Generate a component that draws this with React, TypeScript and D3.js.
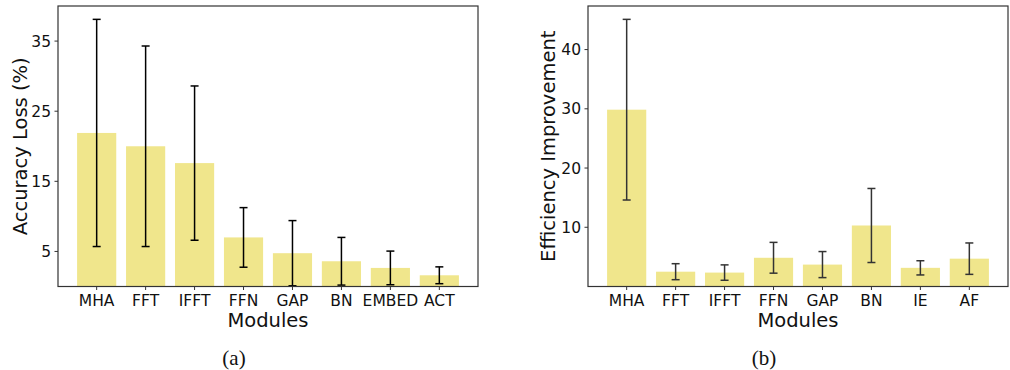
import * as d3 from "d3";

// panel (a): accuracy loss
const modulesA = ["MHA", "FFT", "IFFT", "FFN", "GAP", "BN", "EMBED", "ACT"];
const lossMean = [21.9, 20.0, 17.6, 7.0, 4.75, 3.6, 2.65, 1.6];
const lossErr = [16.2, 14.3, 11.0, 4.25, 4.65, 3.4, 2.4, 1.2];
const lossTicks = [5, 15, 25, 35];

// panel (b): efficiency improvement
const modulesB = ["MHA", "FFT", "IFFT", "FFN", "GAP", "BN", "IE", "AF"];
const effMean = [29.85, 2.5, 2.35, 4.85, 3.7, 10.3, 3.15, 4.7];
const effErr = [15.25, 1.35, 1.3, 2.6, 2.2, 6.25, 1.2, 2.65];
const effTicks = [10, 20, 30, 40];

const FONT = "DejaVu Sans, sans-serif";
const BAR = "#f0e68c";

type PanelProps = {
  x0: number;
  x1: number;
  cats: string[];
  mean: number[];
  err: number[];
  ticks: number[];
  ylabel: string;
  ylabelX: number;
  errColor: string;
  caption: string;
  captionX: number;
};

function Panel(p: PanelProps) {
  const top = 6;
  const bottom = 286.5;
  const x = d3
    .scaleBand<string>()
    .domain(p.cats)
    .range([p.x0, p.x1])
    .paddingInner(0.2)
    .paddingOuter(0.39);
  const ymax = d3.max(p.mean.map((m, i) => m + p.err[i])) as number;
  const y = d3.scaleLinear().domain([0, ymax * 1.05]).range([bottom, top]);
  const cx = (c: string) => (x(c) as number) + x.bandwidth() / 2;
  const cap = 4;
  return (
    <g>
      {p.cats.map((c, i) => (
        <rect
          key={c}
          x={x(c)}
          y={y(p.mean[i])}
          width={x.bandwidth()}
          height={bottom - y(p.mean[i])}
          fill={BAR}
        />
      ))}
      {p.cats.map((c, i) => {
        const lo = y(Math.max(0, p.mean[i] - p.err[i]));
        const hi = y(p.mean[i] + p.err[i]);
        const xc = cx(c);
        return (
          <g key={c} stroke={p.errColor} strokeWidth={1.5}>
            <line x1={xc} x2={xc} y1={lo} y2={hi} />
            <line x1={xc - cap} x2={xc + cap} y1={lo} y2={lo} />
            <line x1={xc - cap} x2={xc + cap} y1={hi} y2={hi} />
          </g>
        );
      })}
      <rect
        x={p.x0}
        y={top}
        width={p.x1 - p.x0}
        height={bottom - top}
        fill="none"
        stroke="#333"
        strokeWidth={1.2}
      />
      {p.ticks.map((t) => (
        <g key={t}>
          <line x1={p.x0 - 3.5} x2={p.x0} y1={y(t)} y2={y(t)} stroke="#333" />
          <text
            x={p.x0 - 7}
            y={y(t)}
            dy="0.36em"
            textAnchor="end"
            fontFamily={FONT}
            fontSize={15.5}
            fill="#111"
          >
            {t}
          </text>
        </g>
      ))}
      {p.cats.map((c) => (
        <g key={c}>
          <line x1={cx(c)} x2={cx(c)} y1={bottom} y2={bottom + 3.5} stroke="#333" />
          <text
            x={cx(c)}
            y={306}
            textAnchor="middle"
            fontFamily={FONT}
            fontSize={15.5}
            fill="#111"
          >
            {c}
          </text>
        </g>
      ))}
      <text
        x={(p.x0 + p.x1) / 2}
        y={326.5}
        textAnchor="middle"
        fontFamily={FONT}
        fontSize={19.5}
        fill="#111"
      >
        Modules
      </text>
      <text
        transform={`translate(${p.ylabelX},${(top + bottom) / 2}) rotate(-90)`}
        textAnchor="middle"
        fontFamily={FONT}
        fontSize={19.5}
        fill="#111"
      >
        {p.ylabel}
      </text>
      <text
        x={p.captionX}
        y={365}
        textAnchor="middle"
        fontFamily="Liberation Serif, serif"
        fontSize={21}
        fill="#111"
      >
        {p.caption}
      </text>
    </g>
  );
}

export default function App() {
  return (
    <svg
      width={1010}
      height={370}
      style={{ position: "absolute", left: 0, top: 0, background: "#fff" }}
    >
      <Panel
        x0={58}
        x1={478}
        cats={modulesA}
        mean={lossMean}
        err={lossErr}
        ticks={lossTicks}
        ylabel="Accuracy Loss (%)"
        ylabelX={27}
        errColor="#000"
        caption="(a)"
        captionX={234}
      />
      <Panel
        x0={588}
        x1={1008}
        cats={modulesB}
        mean={effMean}
        err={effErr}
        ticks={effTicks}
        ylabel="Efficiency Improvement"
        ylabelX={555}
        errColor="#333"
        caption="(b)"
        captionX={764}
      />
    </svg>
  );
}
